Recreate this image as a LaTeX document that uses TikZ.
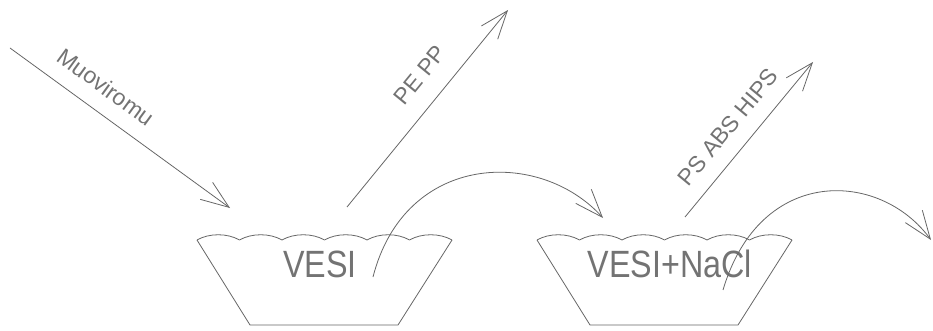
\documentclass[tikz,border=0pt]{standalone}
\usepackage{fontspec}
\setmainfont{Liberation Sans}
\newfontfamily\cadfont[FakeStretch=0.85]{Liberation Sans}
\usetikzlibrary{arrows.meta}
\begin{document}
\begin{tikzpicture}[x=1pt,y=1pt,
    viiva/.style={black!60,line width=0.8pt},
    nuoli/.style={viiva,-{Straight Barb[length=28pt,width=21pt]}},
    teksti/.style={text=black!55,font=\fontsize{23}{23}\selectfont,inner sep=0pt},
    allas/.style={text=black!55,font=\cadfont\fontsize{38}{38}\selectfont,inner sep=0pt}]
  \useasboundingbox (0,0) rectangle (933,330);
  \foreach \x in {197,537}{
    \draw[viiva] (\x,90) -- (\x+53,5) -- (\x+201,5) -- (\x+255,90);
    \foreach \i in {0,...,5}
      \draw[viiva] (\x+42.5*\i,90) .. controls (\x+42.5*\i+12,97) and (\x+42.5*\i+30.5,97) .. (\x+42.5*\i+42.5,90);
  }
  \node[allas] (vesi) at (320,66) {VESI};
  \node[allas] (suola) at (670,66) {VESI+NaCl};
  \coordinate (syotto) at (10,282);
  \coordinate (syottoloppu) at (230,122);
  \coordinate (pealku) at (347,123);
  \coordinate (peloppu) at (508,320);
  \coordinate (psalku) at (685,113);
  \coordinate (psloppu) at (813,268);
  \coordinate (siirto1) at (373,53);
  \coordinate (siirto1loppu) at (603,112);
  \coordinate (siirto2) at (723,40);
  \coordinate (siirto2loppu) at (931,90);
  \draw[nuoli] (syotto) -- (syottoloppu);
  \draw[nuoli] (pealku) -- (peloppu);
  \draw[nuoli] (psalku) -- (psloppu);
  \draw[nuoli] (siirto1) .. controls (405,178) and (540,182) .. (siirto1loppu);
  \draw[nuoli] (siirto2) .. controls (760,165) and (880,160) .. (siirto2loppu);
  \node[teksti,rotate=-36] (muovi) at (106,243) {Muoviromu};
  \node[teksti,rotate=50.7] (pepp) at (420,255) {PE PP};
  \node[teksti,rotate=50.4] (psabs) at (728,203) {PS ABS HIPS};
\end{tikzpicture}
\end{document}
